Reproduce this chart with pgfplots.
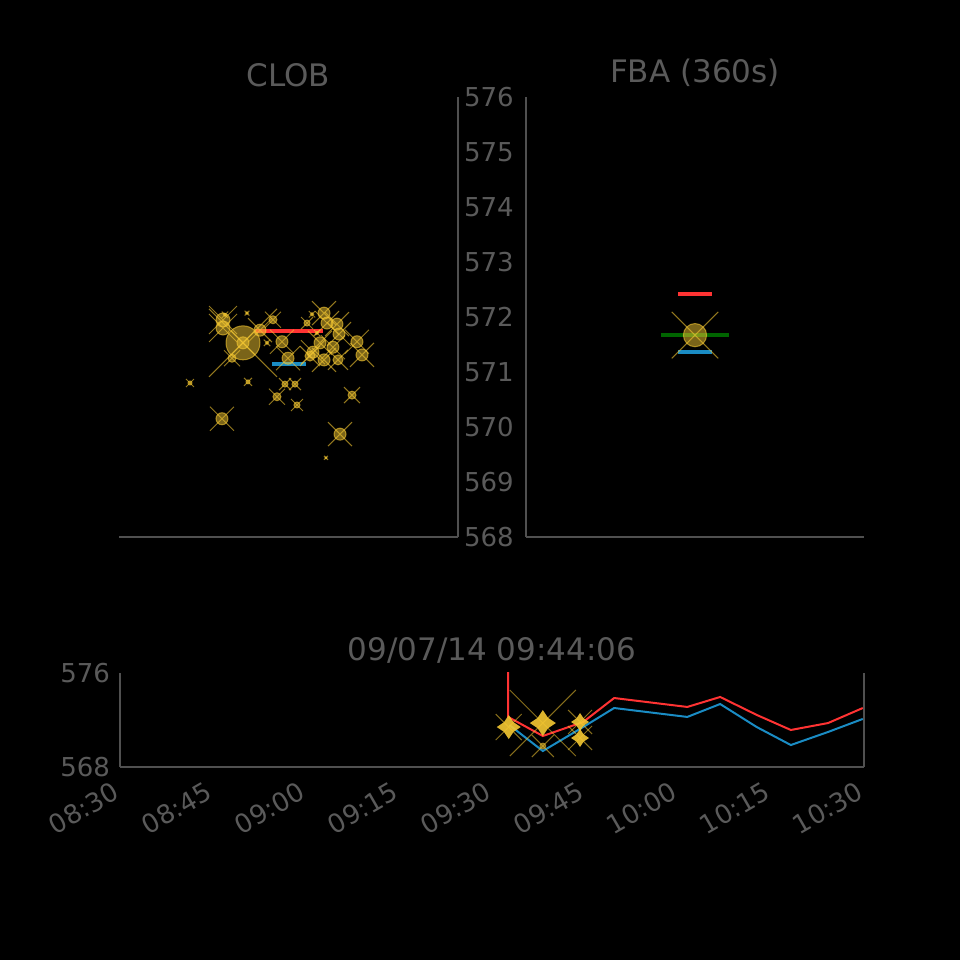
\documentclass[border=0pt]{standalone}
\usepackage{pgfplots}
\pgfplotsset{compat=1.18}
\usepackage{pgfplotstable}
\usepackage{fontspec}
\setmainfont{DejaVu Sans}
\definecolor{txtgray}{HTML}{5A5A5A}
\definecolor{axgray}{HTML}{505050}
\definecolor{gold}{HTML}{F5C832}
\definecolor{myred}{HTML}{FF3333}
\definecolor{myblue}{HTML}{1A8CC4}
\definecolor{mygreen}{HTML}{006400}

\pgfdeclareplotmark{circx}{%
  \pgfpathcircle{\pgfpointorigin}{\pgfplotmarksize}%
  \pgfusepathqfillstroke
  \pgfpathmoveto{\pgfpoint{-2\pgfplotmarksize}{-2\pgfplotmarksize}}%
  \pgfpathlineto{\pgfpoint{2\pgfplotmarksize}{2\pgfplotmarksize}}%
  \pgfpathmoveto{\pgfpoint{-2\pgfplotmarksize}{2\pgfplotmarksize}}%
  \pgfpathlineto{\pgfpoint{2\pgfplotmarksize}{-2\pgfplotmarksize}}%
  \pgfusepathqstroke}
\pgfdeclareplotmark{xlines}{%
  \pgfpathmoveto{\pgfpoint{-\pgfplotmarksize}{-\pgfplotmarksize}}%
  \pgfpathlineto{\pgfpoint{\pgfplotmarksize}{\pgfplotmarksize}}%
  \pgfpathmoveto{\pgfpoint{-\pgfplotmarksize}{\pgfplotmarksize}}%
  \pgfpathlineto{\pgfpoint{\pgfplotmarksize}{-\pgfplotmarksize}}%
  \pgfusepathqstroke}
\pgfdeclareplotmark{fourstar}{%
  \pgfpathmoveto{\pgfpoint{0pt}{\pgfplotmarksize}}%
  \pgfpathlineto{\pgfpoint{0.4\pgfplotmarksize}{0.4\pgfplotmarksize}}%
  \pgfpathlineto{\pgfpoint{\pgfplotmarksize}{0pt}}%
  \pgfpathlineto{\pgfpoint{0.4\pgfplotmarksize}{-0.4\pgfplotmarksize}}%
  \pgfpathlineto{\pgfpoint{0pt}{-\pgfplotmarksize}}%
  \pgfpathlineto{\pgfpoint{-0.4\pgfplotmarksize}{-0.4\pgfplotmarksize}}%
  \pgfpathlineto{\pgfpoint{-\pgfplotmarksize}{0pt}}%
  \pgfpathlineto{\pgfpoint{-0.4\pgfplotmarksize}{0.4\pgfplotmarksize}}%
  \pgfpathclose
  \pgfusepathqfill}

\pgfplotstableread{
x y s
1.534 571.945 3.5
1.534 571.80 3.5
1.563 572.04 0.8
1.888 572.07 0.6
1.829 571.53 8.5
1.829 571.53 3
1.667 571.25 2
2.080 571.76 3
2.271 571.95 2
2.183 571.53 0.8
2.404 571.55 3
2.493 571.25 3
2.773 571.89 1.5
2.847 572.05 0.8
3.024 572.07 3
3.068 571.89 3
3.215 571.87 3
3.245 571.69 3
2.965 571.53 3
3.156 571.45 3
2.861 571.36 3
2.817 571.29 2.5
3.024 571.22 3
3.230 571.22 2.5
3.510 571.55 3
3.584 571.31 3
2.920 571.71 0.8
1.047 570.80 1
1.903 570.82 1
2.448 570.78 1.5
2.596 570.78 1.5
2.330 570.55 2
2.625 570.40 1.5
3.437 570.58 2
1.519 570.15 3
3.260 569.87 3
3.053 569.44 0.5
}\clobtrades

\pgfplotstableread{
x y s
2.5 571.67 5.8
}\fbatrades

\pgfplotstableread{
x y
62.6 580
62.6 572.26
68.2 570.64
74.7 571.83
79.7 573.87
91.5 573.11
96.8 573.96
102.7 572.43
108.2 571.15
114.2 571.74
119.8 573.02
}\redseries

\pgfplotstableread{
x y
62.8 571.57
68.2 569.36
74.7 571.40
79.7 573.02
91.5 572.26
96.8 573.36
102.7 571.40
108.2 569.87
114.2 570.98
119.8 572.09
}\blueseries

\pgfplotstableread{
x y s
62.7 571.40 6
68.2 571.74 6.5
74.2 571.83 4.5
74.2 570.47 4.5
}\tsstars

\pgfplotstableread{
x y s
62.7 571.40 6.5
68.2 571.74 16.5
68.2 569.79 5.5
74.2 571.83 6
74.2 570.47 6
}\tsxlines

\begin{document}
\begin{tikzpicture}
\fill[black] (0,0) rectangle (480pt,480pt);
\pgfplotsset{
  base/.style={scale only axis,
    axis line style={axgray, line width=0.75pt},
    tick label style={font=\fontsize{13}{15}\selectfont, text=txtgray},
    title style={font=\fontsize{15.5}{18}\selectfont, text=txtgray, yshift=-4.5pt},
    /pgf/number format/assume math mode=true,
    tick style={black, line width=1pt},
    major tick length=3pt, tick align=center},
  trades/.style={scatter, only marks, mark=circx, line width=0.5pt,
    scatter/use mapped color={draw=gold, fill=gold},
    mark options={draw opacity=0.6, fill opacity=0.5},
    visualization depends on={\thisrow{s} \as \msize},
    scatter/@pre marker code/.append style={/tikz/mark size=\msize}},
}
% CLOB
\begin{axis}[base, width=169.5pt, height=220pt, at={(59.5pt,211.5pt)}, anchor=south west,
  xmin=0, xmax=5, ymin=568, ymax=576,
  axis x line*=bottom, axis y line*=right,
  xtick={0.5,1.5,2.5,3.5,4.5}, xticklabels={},
  ytick={568,569,...,576}, ytick style={draw=none},
  yticklabel style={xshift=-2pt},
  title=CLOB]
\addplot[myred, line width=2pt] coordinates {(2.006,571.75) (3.009,571.75)};
\addplot[myblue, line width=2pt] coordinates {(2.257,571.15) (2.758,571.15)};
\addplot[trades] table[x=x, y=y] {\clobtrades};
\end{axis}
% FBA
\begin{axis}[base, width=169pt, height=220pt, at={(263pt,211.5pt)}, anchor=south west,
  xmin=0, xmax=5, ymin=568, ymax=576,
  axis x line*=bottom, axis y line*=left,
  xtick={0.5,1.5,2.5,3.5,4.5}, xticklabels={},
  ytick=\empty,
  title={FBA (360s)}]
\addplot[myred, line width=2pt] coordinates {(2.25,572.42) (2.75,572.42)};
\addplot[mygreen, line width=2pt] coordinates {(2.0,571.67) (3.0,571.67)};
\addplot[myblue, line width=2pt] coordinates {(2.25,571.36) (2.75,571.36)};
\addplot[trades] table[x=x, y=y] {\fbatrades};
\end{axis}
% Time series
\begin{axis}[base, name=ts, width=372pt, height=47pt, at={(60pt,96.5pt)}, anchor=south west,
  xmin=0, xmax=120, ymin=568, ymax=576,
  axis x line*=bottom, axis y line*=left,
  xtick={0,15,...,120},
  xticklabels={08:30,08:45,09:00,09:15,09:30,09:45,10:00,10:15,10:30},
  xticklabel style={rotate=30, anchor=north east, xshift=-3pt, yshift=1pt},
  ytick={568,576}, ytick style={draw=none},
  title={09/07/14 09:44:06}]
\addplot[myred, line width=1pt] table[x=x, y=y] {\redseries};
\addplot[myblue, line width=1pt] table[x=x, y=y] {\blueseries};
\addplot[only marks, mark=xlines, gold, line width=0.5pt, opacity=0.55,
  visualization depends on={\thisrow{s} \as \msize},
  scatter, scatter/use mapped color={draw=gold, fill=gold},
  scatter/@pre marker code/.append style={/tikz/mark size=\msize}] table[x=x, y=y] {\tsxlines};
\addplot[only marks, mark=*, gold, mark size=1.5pt, mark options={fill opacity=0.5, draw opacity=0.5}] coordinates {(68.2,569.79)};
\addplot[only marks, mark=fourstar,
  visualization depends on={\thisrow{s} \as \msize},
  scatter, scatter/use mapped color={draw=gold, fill=gold},
  mark options={fill opacity=0.9},
  scatter/@pre marker code/.append style={/tikz/mark size=\msize}] table[x=x, y=y] {\tsstars};
\end{axis}
\draw[axgray, line width=0.75pt] (ts.south east) -- (ts.north east);
\end{tikzpicture}
\end{document}
